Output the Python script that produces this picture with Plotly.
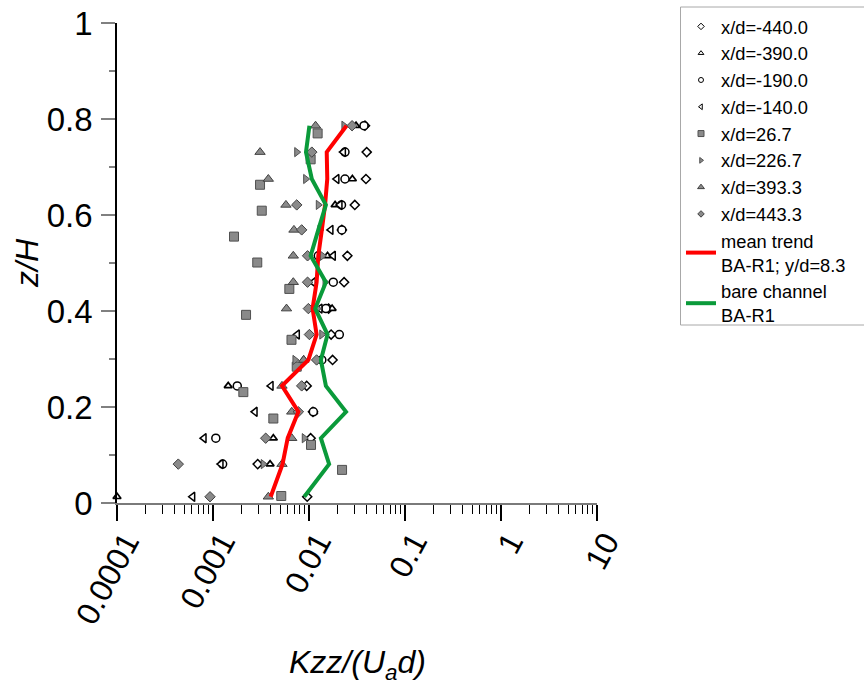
import plotly.graph_objects as go

# ---- data ----
z_levels = [0.013, 0.081, 0.135, 0.190, 0.244, 0.298, 0.351, 0.405, 0.460, 0.515,
            0.569, 0.621, 0.675, 0.731, 0.786]

k_m440 = [9.58e-3, 2.92e-3, 1.04e-2, 1.10e-2, 9.46e-3, 1.76e-2, 1.70e-2, 1.60e-2, 2.32e-2,
          2.51e-2, 2.20e-2, 3.00e-2, 3.92e-2, 3.99e-2, 3.83e-2]
k_m390 = [1.0e-4, 3.93e-3, 4.25e-3, 1.12e-2, 1.44e-3, 8.8e-3, None, 1.74e-2, None,
          1.56e-2, None, 1.87e-2, 2.83e-2, None, 3.09e-2]
k_m190 = [None, 1.26e-3, 1.07e-3, 1.11e-2, 1.79e-3, 1.36e-2, 2.07e-2, 1.50e-2, 1.79e-2,
          1.25e-2, 2.20e-2, 2.18e-2, 2.37e-2, 2.37e-2, 3.74e-2]
k_m140 = [6.14e-4, 1.21e-3, 8.06e-4, 2.74e-3, 4.02e-3, None, 7.55e-3, 1.30e-2, 1.11e-2,
          1.79e-2, 1.69e-2, 2.10e-2, 1.95e-2, 2.28e-2, None]
z_p267 = [0.0146, 0.069, 0.121, 0.176, 0.231, 0.284, 0.340, 0.392, 0.446, 0.501,
          0.555, 0.609, 0.663, 0.716, 0.770]
k_p267 = [5.14e-3, 2.21e-2, 1.05e-2, 4.25e-3, 2.07e-3, 7.45e-3, 6.57e-3, 2.21e-3, 6.24e-3,
          2.89e-3, 1.655e-3, 3.22e-3, 3.09e-3, 1.04e-2, 1.23e-2]
k_p2267 = [None, 3.34e-3, 8.93e-3, None, None, 7.14e-3, 1.36e-2, 1.22e-2, 1.47e-2,
           1.38e-2, 1.30e-2, 1.25e-2, 9.23e-3, 7.45e-3, 2.31e-2]
k_p3933 = [3.77e-3, 5.23e-3, 6.61e-3, 6.61e-3, 5.23e-3, 8.8e-3, None, 5.83e-3, 6.86e-3,
           6.86e-3, 6.97e-3, 5.75e-3, 3.77e-3, 3.09e-3, 1.17e-2]
k_p4433 = [9.31e-4, 4.35e-4, 3.54e-3, 7.75e-3, 8.39e-3, 1.20e-2, 1.01e-2, 9.85e-3, 9.66e-3,
           9.66e-3, 8.39e-3, 7.45e-3, None, 1.07e-2, 2.81e-2]
k_mean = [3.99e-3, 5.3e-3, 6.0e-3, 7.75e-3, 5.23e-3, 9.85e-3, 1.20e-2, 1.09e-2, 1.20e-2,
          1.25e-2, 1.36e-2, 1.47e-2, 1.55e-2, 1.53e-2, 2.46e-2]
k_bare = [8.93e-3, 1.62e-2, 1.33e-2, 2.43e-2, 1.50e-2, 1.33e-2, 1.56e-2, 1.16e-2, 1.50e-2,
          1.04e-2, 1.25e-2, 1.50e-2, 1.07e-2, 9.3e-3, 1.01e-2]

x_tickvals = [1e-4, 1e-3, 1e-2, 1e-1, 1, 10]
x_ticktext = ["0.0001", "0.001", "0.01", "0.1", "1", "10"]
y_tickvals = [0, 0.2, 0.4, 0.6, 0.8, 1]
y_ticktext = ["0", "0.2", "0.4", "0.6", "0.8", "1"]

FONT = "Liberation Sans, Arial, sans-serif"
GREY = "#8a8a8a"

series = [
    ("x/d=-440.0", k_m440, z_levels, dict(symbol="diamond", size=7, color="white", line=dict(color="black", width=1.5))),
    ("x/d=-390.0", k_m390, z_levels, dict(symbol="triangle-up", size=7, color="white", line=dict(color="black", width=1.7))),
    ("x/d=-190.0", k_m190, z_levels, dict(symbol="circle", size=8, color="white", line=dict(color="black", width=1.5))),
    ("x/d=-140.0", k_m140, z_levels, dict(symbol="triangle-left", size=8, color="white", line=dict(color="black", width=1.5))),
    ("x/d=26.7", k_p267, z_p267, dict(symbol="square", size=9, color=GREY, line=dict(color="#505050", width=1))),
    ("x/d=226.7", k_p2267, z_levels, dict(symbol="triangle-right", size=8, color=GREY, line=dict(color="#505050", width=1))),
    ("x/d=393.3", k_p3933, z_levels, dict(symbol="triangle-up", size=9, color=GREY, line=dict(color="#404040", width=1))),
    ("x/d=443.3", k_p4433, z_levels, dict(symbol="diamond", size=8, color=GREY, line=dict(color="#404040", width=1))),
]

fig = go.Figure()
for name, xs, ys, mk in series:
    fig.add_trace(go.Scatter(x=xs, y=ys, mode="markers", marker=mk, showlegend=False,
                             cliponaxis=False, name=name))
for name, xs, ys, mk in series:
    lm = dict(mk)
    lm["size"] = max(mk["size"] - 3, 5)
    lm["line"] = dict(color=mk["line"]["color"], width=1)
    fig.add_trace(go.Scatter(x=[None], y=[None], mode="markers", marker=lm, name=name))

fig.add_trace(go.Scatter(x=k_mean, y=z_levels, mode="lines", line=dict(color="#ff0000", width=4),
                         name="mean trend<br>BA-R1; y/d=8.3"))
fig.add_trace(go.Scatter(x=k_bare, y=z_levels, mode="lines", line=dict(color="#0a9a3a", width=4),
                         name="bare channel<br>BA-R1"))

def px_x(p):
    return (p - 117) / 480

def px_y(p):
    return (503 - p) / 480

fig.update_layout(
    width=864, height=698,
    margin=dict(l=117, r=267, t=23, b=195, autoexpand=False),
    paper_bgcolor="white", plot_bgcolor="white",
    font=dict(family=FONT, color="black"),
    legend=dict(x=px_x(681), y=px_y(8), xanchor="left", yanchor="top",
                borderwidth=0, bgcolor="rgba(0,0,0,0)",
                font=dict(size=18.3, family=FONT), tracegroupgap=0, itemwidth=30),
    shapes=[dict(type="rect", xref="paper", yref="paper", x0=px_x(680.5), x1=px_x(900),
                 y0=px_y(325), y1=px_y(7), line=dict(color="#a8a8a8", width=1),
                 fillcolor="rgba(0,0,0,0)", layer="below")],
    xaxis=dict(type="log", range=[-4, 1], tickmode="array", tickvals=x_tickvals, ticktext=x_ticktext,
               tickangle=-62, tickfont=dict(size=32), showline=True, linecolor="#7a7a7a", linewidth=1.5,
               ticks="outside", ticklen=16, tickwidth=1.5, tickcolor="black", showgrid=False, zeroline=False,
               ticklabelshift=9, ticklabelstandoff=-10,
               minor=dict(ticks="outside", ticklen=9, tickwidth=1.2, tickcolor="black", dtick="D1", showgrid=False)),
    yaxis=dict(range=[0, 1], tickmode="array", tickvals=y_tickvals, ticktext=y_ticktext,
               tickfont=dict(size=33), showline=True, linecolor="black", linewidth=1.5,
               ticks="outside", ticklen=14, tickwidth=2, tickcolor="#808080", showgrid=False, zeroline=False,
               ticklabelstandoff=2,
               minor=dict(ticks="outside", ticklen=6, tickwidth=2, tickcolor="#808080", dtick=0.1, showgrid=False)),
    annotations=[
        dict(text="<i>Kzz/(U<sub>a</sub>d)</i>", xref="paper", yref="paper", x=0.5, y=px_y(664),
             xanchor="center", yanchor="middle", showarrow=False, font=dict(size=32, family=FONT)),
        dict(text="<i>z/H</i>", xref="paper", yref="paper", x=px_x(27), y=0.5, textangle=-90,
             xanchor="center", yanchor="middle", showarrow=False, font=dict(size=32, family=FONT)),
    ],
)

fig.write_html("out.html")
